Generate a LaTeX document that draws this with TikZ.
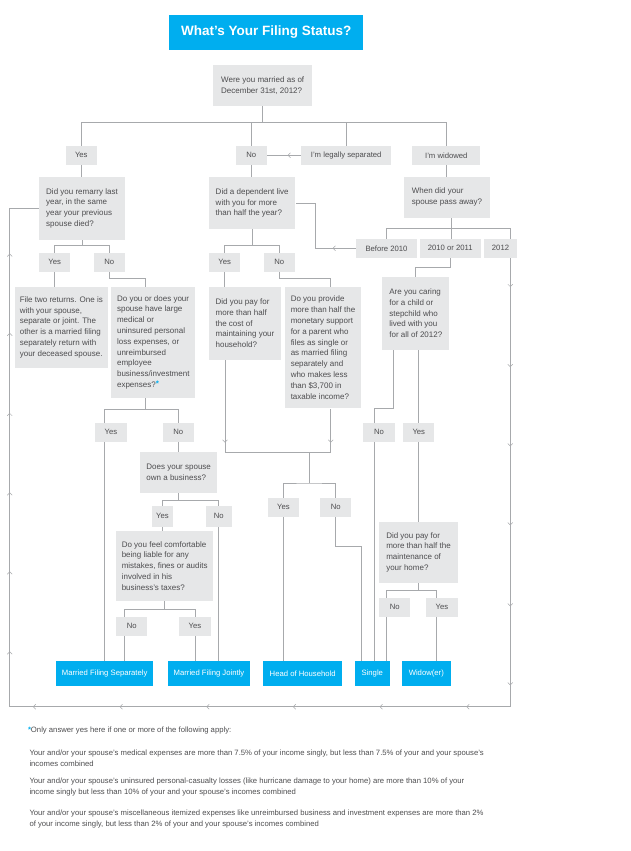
\documentclass[tikz,border=0pt]{standalone}
\usepackage{fontspec}
\setmainfont{Liberation Sans}
\usepackage{xcolor}
\usetikzlibrary{positioning,backgrounds}
\definecolor{cyanbox}{HTML}{00AEEF}
\definecolor{boxgray}{HTML}{E6E7E8}
\definecolor{linegray}{HTML}{A7A9AC}
\definecolor{ink}{HTML}{4D4D4F}

\begin{document}
\begin{tikzpicture}[x=1pt, y=-1pt,
	every node/.style={font=\fontsize{7.7}{10.8}\selectfont, text=ink, inner sep=0pt},
	qbox/.style={fill=boxgray, align=left, font=\fontsize{8}{10.8}\selectfont},
	opt/.style={fill=boxgray, minimum width=31.3pt, minimum height=18.7pt},
	res/.style={fill=cyanbox, text=white, minimum height=24.7pt},
	link/.style={draw=linegray, line width=0.8pt},
	chev/.style={draw=linegray, line width=0.5pt}]
	\useasboundingbox (0,0) rectangle (630,851);

	\node[fill=cyanbox, text=white, minimum width=194pt, minimum height=35pt, font=\bfseries\fontsize{13.5}{16}\selectfont] (title) at (266.3,32.5) {What's Your Filing Status?};

	\node[qbox, minimum width=98.7pt, minimum height=41pt] (married) at (262.7,85.5) {Were you married as of\\December 31st, 2012?};
	\node[qbox, minimum width=86pt, minimum height=62.7pt] (remarry) at (82,208.3) {Did you remarry last\\year, in the same\\year your previous\\spouse died?};
	\node[qbox, minimum width=86.3pt, minimum height=52pt] (depend) at (252.2,203) {Did a dependent live\\with you for more\\than half the year?};
	\node[qbox, minimum width=86pt, minimum height=40.7pt] (passed) at (447,197.3) {When did your\\spouse pass away?};
	\node[qbox, minimum width=92.7pt, minimum height=80.7pt] (tworet) at (61.3,327.3) {File two returns. One is\\with your spouse,\\separate or joint. The\\other is a married filing\\separately return with\\your deceased spouse.};
	\node[qbox, minimum width=84pt, minimum height=110.7pt] (expense) at (153.3,342.3) {Do you or does your\\spouse have large\\medical or\\uninsured personal\\loss expenses, or\\unreimbursed\\employee\\business/investment\\expenses?\raisebox{1pt}{\color{cyanbox}\bfseries*}};
	\node[qbox, minimum width=72pt, minimum height=72.7pt] (paycost) at (245,323.3) {Did you pay for\\more than half\\the cost of\\maintaining your\\household?};
	\node[qbox, minimum width=76.7pt, minimum height=121.3pt] (support) at (323,347.7) {Do you provide\\more than half the\\monetary support\\for a parent who\\files as single or\\as married filing\\separately and\\who makes less\\than \$3,700 in\\taxable income?};
	\node[qbox, minimum width=67pt, minimum height=72.7pt] (caring) at (415.8,313.3) {Are you caring\\for a child or\\stepchild who\\lived with you\\for all of 2012?};
	\node[qbox, minimum width=76.7pt, minimum height=40.7pt] (business) at (178.7,472.3) {Does your spouse\\own a business?};
	\node[qbox, minimum width=97.3pt, minimum height=69.7pt] (comfort) at (164.7,565.8) {Do you feel comfortable\\being liable for any\\mistakes, fines or audits\\involved in his\\business's taxes?};
	\node[qbox, minimum width=79pt, minimum height=60.7pt] (maint) at (418.5,552.3) {Did you pay for\\more than half the\\maintenance of\\your home?};

	\foreach \n/\x/\y/\t in {mYes/81.3/155.3/Yes, mNo/251.3/155.3/No, rYes/54.7/262.2/Yes, rNo/109.3/262.2/No,
		dYes/224.7/262.2/Yes, dNo/279.3/262.2/No, eYes/111/432.3/Yes, eNo/178.2/432.3/No,
		cNo/379/432.3/No, cYes/418.8/432.3/Yes, hYes/283.5/507.3/Yes, hNo/335.8/507.3/No,
		fNo/131.7/626.3/No, fYes/195/626.3/Yes, mtNo/394.7/607.3/No, mtYes/442/607.3/Yes} {
		\node[opt] (\n) at (\x,\y) {\t};
	};
	\node[opt, minimum width=90.3pt] (sep) at (346.2,155.3) {I'm legally separated};
	\node[opt, minimum width=68pt] (widow) at (446.3,155.3) {I'm widowed};
	\node[opt, minimum width=61pt] (before) at (386.5,248.3) {Before 2010};
	\node[opt, minimum width=61.3pt] (mid) at (450.3,248.3) {2010 or 2011};
	\node[opt, minimum width=33.6pt] (late) at (500.5,248.3) {2012};
	\node[opt, minimum width=21.7pt, minimum height=21pt] (bYes) at (162.5,516.2) {Yes};
	\node[opt, minimum width=26.3pt, minimum height=21pt] (bNo) at (218.8,516.2) {No};

	\node[res, minimum width=96.7pt] (mfs) at (104.7,673.3) {Married Filing Separately};
	\node[res, minimum width=82.6pt] (mfj) at (209,673.3) {Married Filing Jointly};
	\node[res, minimum width=79.3pt] (hoh) at (302.7,673.3) {Head of Household};
	\node[res, minimum width=34.7pt] (single) at (372.3,673.3) {Single};
	\node[res, minimum width=49.3pt] (widower) at (426.3,673.3) {Widow(er)};

	\node[anchor=west] (note) at (27.8,730.7) {{\color{cyanbox}\bfseries*}Only answer yes here if one or more of the following apply:};
	\node[anchor=west, align=left] (fnA) at (29.3,758.3) {Your and/or your spouse's medical expenses are more than 7.5\% of your income singly, but less than 7.5\% of your and your spouse's\\incomes combined};
	\node[anchor=west, align=left] (fnB) at (29.3,786.7) {Your and/or your spouse's uninsured personal-casualty losses (like hurricane damage to your home) are more than 10\% of your\\income singly but less than 10\% of your and your spouse's incomes combined};
	\node[anchor=west, align=left] (fnC) at (29.3,819.2) {Your and/or your spouse's miscellaneous itemized expenses like unreimbursed business and investment expenses are more than 2\%\\of your income singly, but less than 2\% of your and your spouse's incomes combined};

	\coordinate (j2) at (451.7,228.7);
	\coordinate (rt) at (510.3,706.7);
	\coordinate (lb) at (9.7,706.7);
	\coordinate (exTop) at (145.7,278.3);
	\coordinate (spTop) at (330.7,278.7);
	\coordinate (m1) at (225,452.3);
	\coordinate (m2) at (330.7,452.3);
	\coordinate (m3) at (309,483);
	\coordinate (sgR) at (361.7,546.7);
	\coordinate (cL) at (393.7,408);
	\coordinate (cL2) at (374.3,408);
	\coordinate (j5a) at (386,590);
	\coordinate (j5b) at (436,590);
	\coordinate (j6) at (145.7,409.3);
	\coordinate (j8a) at (124.7,609);

	\begin{pgfonlayer}{background}
	\draw[link] (married.south) -- ++(0,16.3) coordinate (j1);
	\draw[link] (mYes.north) |- (j1) -| (widow.north);
	\draw[link] (mNo.north) -- (mNo.north |- j1);
	\draw[link] (sep.north) -- (sep.north |- j1);
	\draw[link] (sep.west) -- (mNo.east);
	\draw[link] (mYes.south) -- (mYes.south |- remarry.north);
	\draw[link] (mNo.south) -- (mNo.south |- depend.north);
	\draw[link] (widow.south) -- (widow.south |- passed.north);
	\draw[link] (passed.south -| j2) -- (j2) -- (j2 |- mid.north);
	\draw[link] (before.north) |- (j2) -| (rt) -- (lb) |- (remarry.west);
	\draw[link] (before.west) -- ++(-40.3,0) |- (depend.east);
	\draw[link] (remarry.south) -- ++(0,5.6) coordinate (j3);
	\draw[link] (rYes.north) |- (j3) -| (rNo.north);
	\draw[link] (rYes.south) -- (rYes.south |- tworet.north);
	\draw[link] (rNo.south) |- (exTop) -- (exTop |- expense.north);
	\draw[link] (depend.south) -- ++(0,16.3) coordinate (j4);
	\draw[link] (dYes.north) |- (j4) -| (dNo.north);
	\draw[link] (dYes.south) -- (dYes.south |- paycost.north);
	\draw[link] (dNo.south) |- (spTop) -- (spTop |- support.north);
	\draw[link] (m1 |- paycost.south) -- (m1) -- (m2) -- (m2 |- support.south);
	\draw[link] (m3 |- m1) -- (m3);
	\draw[link] (hYes.north) |- (m3) -| (hNo.north);
	\draw[link] (hYes.south) -- (hYes.south |- hoh.north);
	\draw[link] (hNo.south) |- (sgR) -- (sgR |- single.north);
	\draw[link] (mid.south) -- ++(0,10) -| (caring.north);
	\draw[link] (cL |- caring.south) -- (cL) -- (cL2) -- (cL2 |- single.north);
	\draw[link] (cYes.south |- caring.south) -- (cYes.south |- maint.north);
	\draw[link] (maint.south) -- (maint.south |- j5a);
	\draw[link] (j5a |- single.north) -- (j5a) -- (j5b) -- (j5b |- widower.north);
	\draw[link] (j6 |- expense.south) -- (j6);
	\draw[link] (mfs.north) |- (j6) -| (eNo.north);
	\draw[link] (eNo.south) -- (eNo.south |- business.north);
	\draw[link] (business.south) -- ++(0,7.3) coordinate (j7);
	\draw[link] (bYes.north) |- (j7) -| (bNo.north);
	\draw[link] (bNo.south) -- (bNo.south |- mfj.north);
	\draw[link] (bYes.south) -- (bYes.south |- comfort.north);
	\draw[link] (comfort.south) -- (comfort.south |- j8a);
	\draw[link] (j8a |- mfs.north) -- (j8a) -| (fYes.north);
	\draw[link] (fYes.south) -- (fYes.south |- mfj.north);

	\foreach \y in {254,333.3,413.3,492.7,571.7,651.7}
		\draw[chev] (7.2,\y+2.5) -- (9.7,\y) -- (12.2,\y+2.5);
	\foreach \x in {33.3,120,206.7,293.3,380,466.7}
		\draw[chev] (\x+2.5,704.2) -- (\x,706.7) -- (\x+2.5,709.2);
	\foreach \y in {286.7,366.7,446,525,606,685}
		\draw[chev] (507.8,\y-2.5) -- (510.3,\y) -- (512.8,\y-2.5);
	\foreach \x/\y in {288/155.3, 333/248.3}
		\draw[chev] (\x+2.5,\y-2.5) -- (\x,\y) -- (\x+2.5,\y+2.5);
	\foreach \x/\y in {225/442.3, 330.7/442.3}
		\draw[chev] (\x-2.5,\y-2.5) -- (\x,\y) -- (\x+2.5,\y-2.5);
	\end{pgfonlayer}
\end{tikzpicture}
\end{document}
